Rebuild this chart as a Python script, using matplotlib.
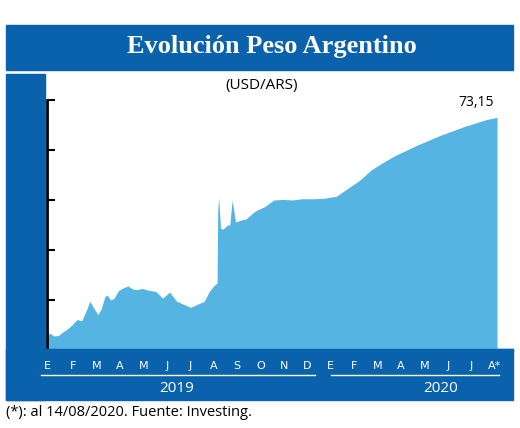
import matplotlib.pyplot as plt
from matplotlib.patches import Rectangle

# months since 1 Jan 2019, USD/ARS
months = [0.0, 0.1, 0.3, 0.5, 0.7, 0.9, 1.1, 1.3, 1.5, 1.7, 1.85, 2.0, 2.2, 2.35, 2.5,
          2.6, 2.75, 2.9, 3.1, 3.3, 3.5, 3.7, 3.9, 4.1, 4.4, 4.7, 5.0, 5.3, 5.6, 5.9,
          6.2, 6.5, 6.8, 7.0, 7.2, 7.35, 7.38, 7.42, 7.5, 7.6, 7.8, 7.9, 8.0, 8.05, 8.15,
          8.3, 8.6, 9.0, 9.4, 9.8, 10.2, 10.6, 11.0, 11.5, 12.0, 12.5, 13.0, 13.5, 14.0,
          14.5, 15.0, 15.5, 16.0, 16.5, 17.0, 17.5, 18.0, 18.5, 19.0, 19.45]
values = [37.0, 37.8, 37.3, 37.4, 38.0, 38.5, 39.2, 40.0, 39.8, 41.5, 43.0, 42.0, 40.8, 41.8, 43.8,
          44.0, 43.2, 43.5, 44.8, 45.2, 45.5, 45.0, 44.9, 45.1, 44.8, 44.6, 43.5, 44.5, 43.0, 42.5,
          42.0, 42.5, 43.0, 44.5, 45.5, 46.0, 58.0, 60.0, 55.0, 54.8, 55.5, 55.5, 59.5, 58.5, 56.0,
          56.2, 56.5, 57.8, 58.5, 59.6, 59.7, 59.6, 59.8, 59.8, 59.9, 60.2, 61.5, 62.8, 64.5,
          65.7, 66.8, 67.7, 68.6, 69.4, 70.2, 70.9, 71.6, 72.2, 72.8, 73.15]
month_labels = ["E", "F", "M", "A", "M", "J", "J", "A", "S", "O", "N", "D",
                "E", "F", "M", "A", "M", "J", "J", "A*"]
yticks = [35.0, 43.2, 51.4, 59.6, 67.8, 76.0]

navy = "#0a62ad"
fill = "#56b4e2"

fig = plt.figure(figsize=(5.2, 4.28), dpi=100)
W, H = 520, 428

def box(x0, y0, x1, y1):
    fig.patches.append(Rectangle((x0 / W, 1 - y1 / H), (x1 - x0) / W, (y1 - y0) / H,
                                 transform=fig.transFigure, color=navy, zorder=0))

box(6, 25, 513, 70)     # title banner
box(6, 74, 45, 400)     # left strip
box(6, 349, 513, 400)   # bottom band
box(497, 349, 513, 352)

fig.text(272 / W, 1 - 47 / H, "Evolución Peso Argentino", color="white", fontsize=19,
         fontweight="bold", family="Liberation Serif", ha="center", va="center")
fig.text(262 / W, 1 - 85 / H, "(USD/ARS)", fontsize=11, ha="center", va="center", family="Open Sans")
fig.text(6 / W, 1 - 413 / H, "(*): al 14/08/2020. Fuente: Investing.", fontsize=10.5,
         va="center", family="Open Sans")

ax = fig.add_axes([47 / W, 1 - 350 / H, 450 / W, 250 / H])
ax.fill_between(months, values, 35, color=fill, lw=0)
ax.set_xlim(0, 19.45)
ax.set_ylim(35, 76)
ax.set_xticks([])
ax.set_yticks(yticks)
ax.set_yticklabels([f"{v:.1f}".replace(".", ",") for v in yticks], color="white", fontsize=10.5,
                   family="Open Sans")
ax.tick_params(axis="y", length=6, width=1.5, direction="in", pad=6)
for s in ["top", "right"]:
    ax.spines[s].set_visible(False)
ax.spines["left"].set_linewidth(2)
ax.spines["bottom"].set_linewidth(2)
ax.annotate("73,15", (months[-1], values[-1]), xytext=(-2, 8), textcoords="offset points",
            ha="right", fontsize=10, family="Open Sans")

for i, lab in enumerate(month_labels):
    px = 47 + i * 23.4 + (3 if i > 0 else 0)
    fig.text(px / W, 1 - 366 / H, lab, color="white", fontsize=8, ha="center", va="center",
             family="Liberation Sans Narrow")
fig.lines.append(plt.Line2D([41 / W, 315 / W], [1 - 375 / H] * 2, color="white", lw=1,
                            transform=fig.transFigure))
fig.lines.append(plt.Line2D([331 / W, 499 / W], [1 - 375 / H] * 2, color="white", lw=1,
                            transform=fig.transFigure))
fig.text(177 / W, 1 - 389 / H, "2019", color="white", fontsize=11, ha="center", va="center",
         family="Open Sans")
fig.text(441 / W, 1 - 389 / H, "2020", color="white", fontsize=11, ha="center", va="center",
         family="Open Sans")

fig.savefig("out.png", dpi=100)
